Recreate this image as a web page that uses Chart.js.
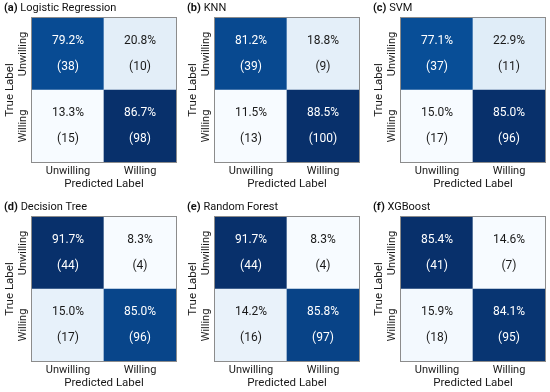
<!DOCTYPE html>
<html>
<head>
<meta charset="utf-8">
<script src="https://cdn.jsdelivr.net/npm/chart.js@4.4.1/dist/chart.umd.min.js"></script>
<style>
  html, body { margin: 0; padding: 0; background: #ffffff; }
  #wrap { position: relative; width: 550px; height: 392px; overflow: hidden; }
  .panel { position: absolute; }
</style>
</head>
<body>
<div id="wrap"></div>
<script>
// ---- data ----
const panelLetters = ['(a)', '(b)', '(c)', '(d)', '(e)', '(f)'];
const modelNames = ['Logistic Regression', 'KNN', 'SVM', 'Decision Tree', 'Random Forest', 'XGBoost'];
const predictedLabels = ['Unwilling', 'Willing'];
const trueLabels = ['Unwilling', 'Willing'];
// row-major: [true Unwilling -> pred Unwilling, pred Willing, true Willing -> pred Unwilling, pred Willing]
const pctLogReg = [79.2, 20.8, 13.3, 86.7];
const cntLogReg = [38, 10, 15, 98];
const pctKNN = [81.2, 18.8, 11.5, 88.5];
const cntKNN = [39, 9, 13, 100];
const pctSVM = [77.1, 22.9, 15.0, 85.0];
const cntSVM = [37, 11, 17, 96];
const pctTree = [91.7, 8.3, 15.0, 85.0];
const cntTree = [44, 4, 17, 96];
const pctForest = [91.7, 8.3, 14.2, 85.8];
const cntForest = [44, 4, 16, 97];
const pctXGB = [85.4, 14.6, 15.9, 84.1];
const cntXGB = [41, 7, 18, 95];
const allPct = [pctLogReg, pctKNN, pctSVM, pctTree, pctForest, pctXGB];
const allCnt = [cntLogReg, cntKNN, cntSVM, cntTree, cntForest, cntXGB];

// ---- layout (chart-area left/top for each panel) ----
const areaPos = [[32, 18], [215, 18], [401, 18], [32, 217], [215, 217], [401, 217]];
const AREA = 144, LEFT_W = 32, TOP_H = 18, BOTTOM_H = 33, RIGHT_PAD = 4;
const FONT = "Roboto, 'Liberation Sans', Arial, sans-serif";

// Blues colormap
const bluesStops = ['#f7fbff','#deebf7','#c6dbef','#9ecae1','#6baed6','#4292c6','#2171b5','#08519c','#08306b'];
function hexToRgb(h) { return [parseInt(h.slice(1,3),16), parseInt(h.slice(3,5),16), parseInt(h.slice(5,7),16)]; }
function blues(t) {
  t = Math.max(0, Math.min(1, t));
  const p = t * (bluesStops.length - 1);
  const i = Math.min(Math.floor(p), bluesStops.length - 2);
  const f = p - i;
  const a = hexToRgb(bluesStops[i]), b = hexToRgb(bluesStops[i + 1]);
  const c = a.map((v, k) => Math.round(v + (b[k] - v) * f));
  return 'rgb(' + c.join(',') + ')';
}

const cellText = {
  id: 'cellText',
  afterDatasetsDraw(chart) {
    const ctx = chart.ctx;
    const o = chart.options.plugins.cellText;
    chart.data.datasets.forEach((ds, di) => {
      const meta = chart.getDatasetMeta(di);
      meta.data.forEach((el, j) => {
        const cx = el.x;
        const cy = (el.y + el.base) / 2;
        const h = Math.abs(el.base - el.y);
        ctx.save();
        ctx.fillStyle = ds.textColors[j];
        ctx.font = '12px ' + FONT;
        ctx.textAlign = 'center';
        ctx.textBaseline = 'middle';
        ctx.fillText(ds.pctText[j], cx, cy - h * 0.18);
        ctx.fillText(ds.cntText[j], cx, cy + h * 0.18);
        ctx.restore();
      });
    });
    // frame
    const a = chart.chartArea;
    ctx.save();
    ctx.strokeStyle = '#8c8c8c';
    ctx.lineWidth = 1;
    ctx.strokeRect(Math.round(a.left) - 0.5, Math.round(a.top) - 0.5, Math.round(a.right - a.left) + 1, Math.round(a.bottom - a.top) + 1);
    // panel title
    ctx.fillStyle = '#111111';
    ctx.textBaseline = 'middle';
    ctx.textAlign = 'left';
    ctx.font = 'bold 11px ' + FONT;
    const x0 = a.left - 28, y0 = a.top - 10;
    ctx.fillText(o.letter, x0, y0);
    const w = ctx.measureText(o.letter + ' ').width;
    ctx.font = '11px ' + FONT;
    ctx.fillText(o.name, x0 + w, y0);
    ctx.restore();
  }
};

const wrap = document.getElementById('wrap');
for (let p = 0; p < 6; p++) {
  const [ax, ay] = areaPos[p];
  const W = LEFT_W + AREA + RIGHT_PAD, H = TOP_H + AREA + BOTTOM_H;
  const div = document.createElement('div');
  div.className = 'panel';
  div.style.left = (ax - LEFT_W) + 'px';
  div.style.top = (ay - TOP_H) + 'px';
  div.style.width = W + 'px';
  div.style.height = H + 'px';
  const cv = document.createElement('canvas');
  cv.width = W; cv.height = H;
  cv.style.width = W + 'px'; cv.style.height = H + 'px';
  div.appendChild(cv);
  wrap.appendChild(div);

  const pct = allPct[p], cnt = allCnt[p];
  const vmin = Math.min(...pct), vmax = Math.max(...pct);
  const norm = v => (v - vmin) / (vmax - vmin);
  // rows: true Willing at bottom (index 1), true Unwilling on top (index 0)
  const rowDs = (row) => {
    const vals = [pct[row * 2], pct[row * 2 + 1]];
    const cnts = [cnt[row * 2], cnt[row * 2 + 1]];
    return {
      label: trueLabels[row],
      data: [1, 1],
      backgroundColor: vals.map(v => blues(norm(v))),
      textColors: vals.map(v => norm(v) > 0.5 ? '#ffffff' : '#1a1a1a'),
      pctText: vals.map(v => v.toFixed(1) + '%'),
      cntText: cnts.map(c => '(' + c + ')'),
      borderWidth: 0,
      barPercentage: 1,
      categoryPercentage: 1,
      stack: 's'
    };
  };

  new Chart(cv, {
    type: 'bar',
    data: {
      labels: predictedLabels,
      datasets: [rowDs(1), rowDs(0)]
    },
    options: {
      responsive: false,
      animation: false,
      devicePixelRatio: 1,
      layout: { padding: { top: TOP_H, right: RIGHT_PAD, left: 0, bottom: 0 } },
      plugins: {
        legend: { display: false },
        tooltip: { enabled: false },
        cellText: { letter: panelLetters[p], name: modelNames[p] }
      },
      scales: {
        x: {
          stacked: true,
          grid: { display: false, drawTicks: false },
          border: { display: false },
          ticks: { color: '#1a1a1a', font: { family: FONT, size: 11 }, padding: 3, maxRotation: 0 },
          title: { display: true, text: 'Predicted Label', color: '#1a1a1a', font: { family: FONT, size: 11.5 }, padding: { top: 0, bottom: 4 } },
          afterFit: s => { s.height = BOTTOM_H; }
        },
        y: {
          stacked: true,
          min: 0, max: 2,
          grid: { display: false, drawTicks: false },
          border: { display: false },
          afterBuildTicks: s => { s.ticks = [{ value: 0.5 }, { value: 1.5 }]; },
          ticks: {
            color: '#1a1a1a',
            font: { family: FONT, size: 11 },
            minRotation: 90, maxRotation: 90,
            crossAlign: 'center',
            padding: -13,
            callback: v => (v > 1 ? trueLabels[0] : trueLabels[1])
          },
          title: { display: true, text: 'True Label', color: '#1a1a1a', font: { family: FONT, size: 11.5 }, padding: { top: 3, bottom: 0 } },
          afterFit: s => { s.width = LEFT_W; }
        }
      }
    },
    plugins: [cellText]
  });
}
</script>
</body>
</html>
